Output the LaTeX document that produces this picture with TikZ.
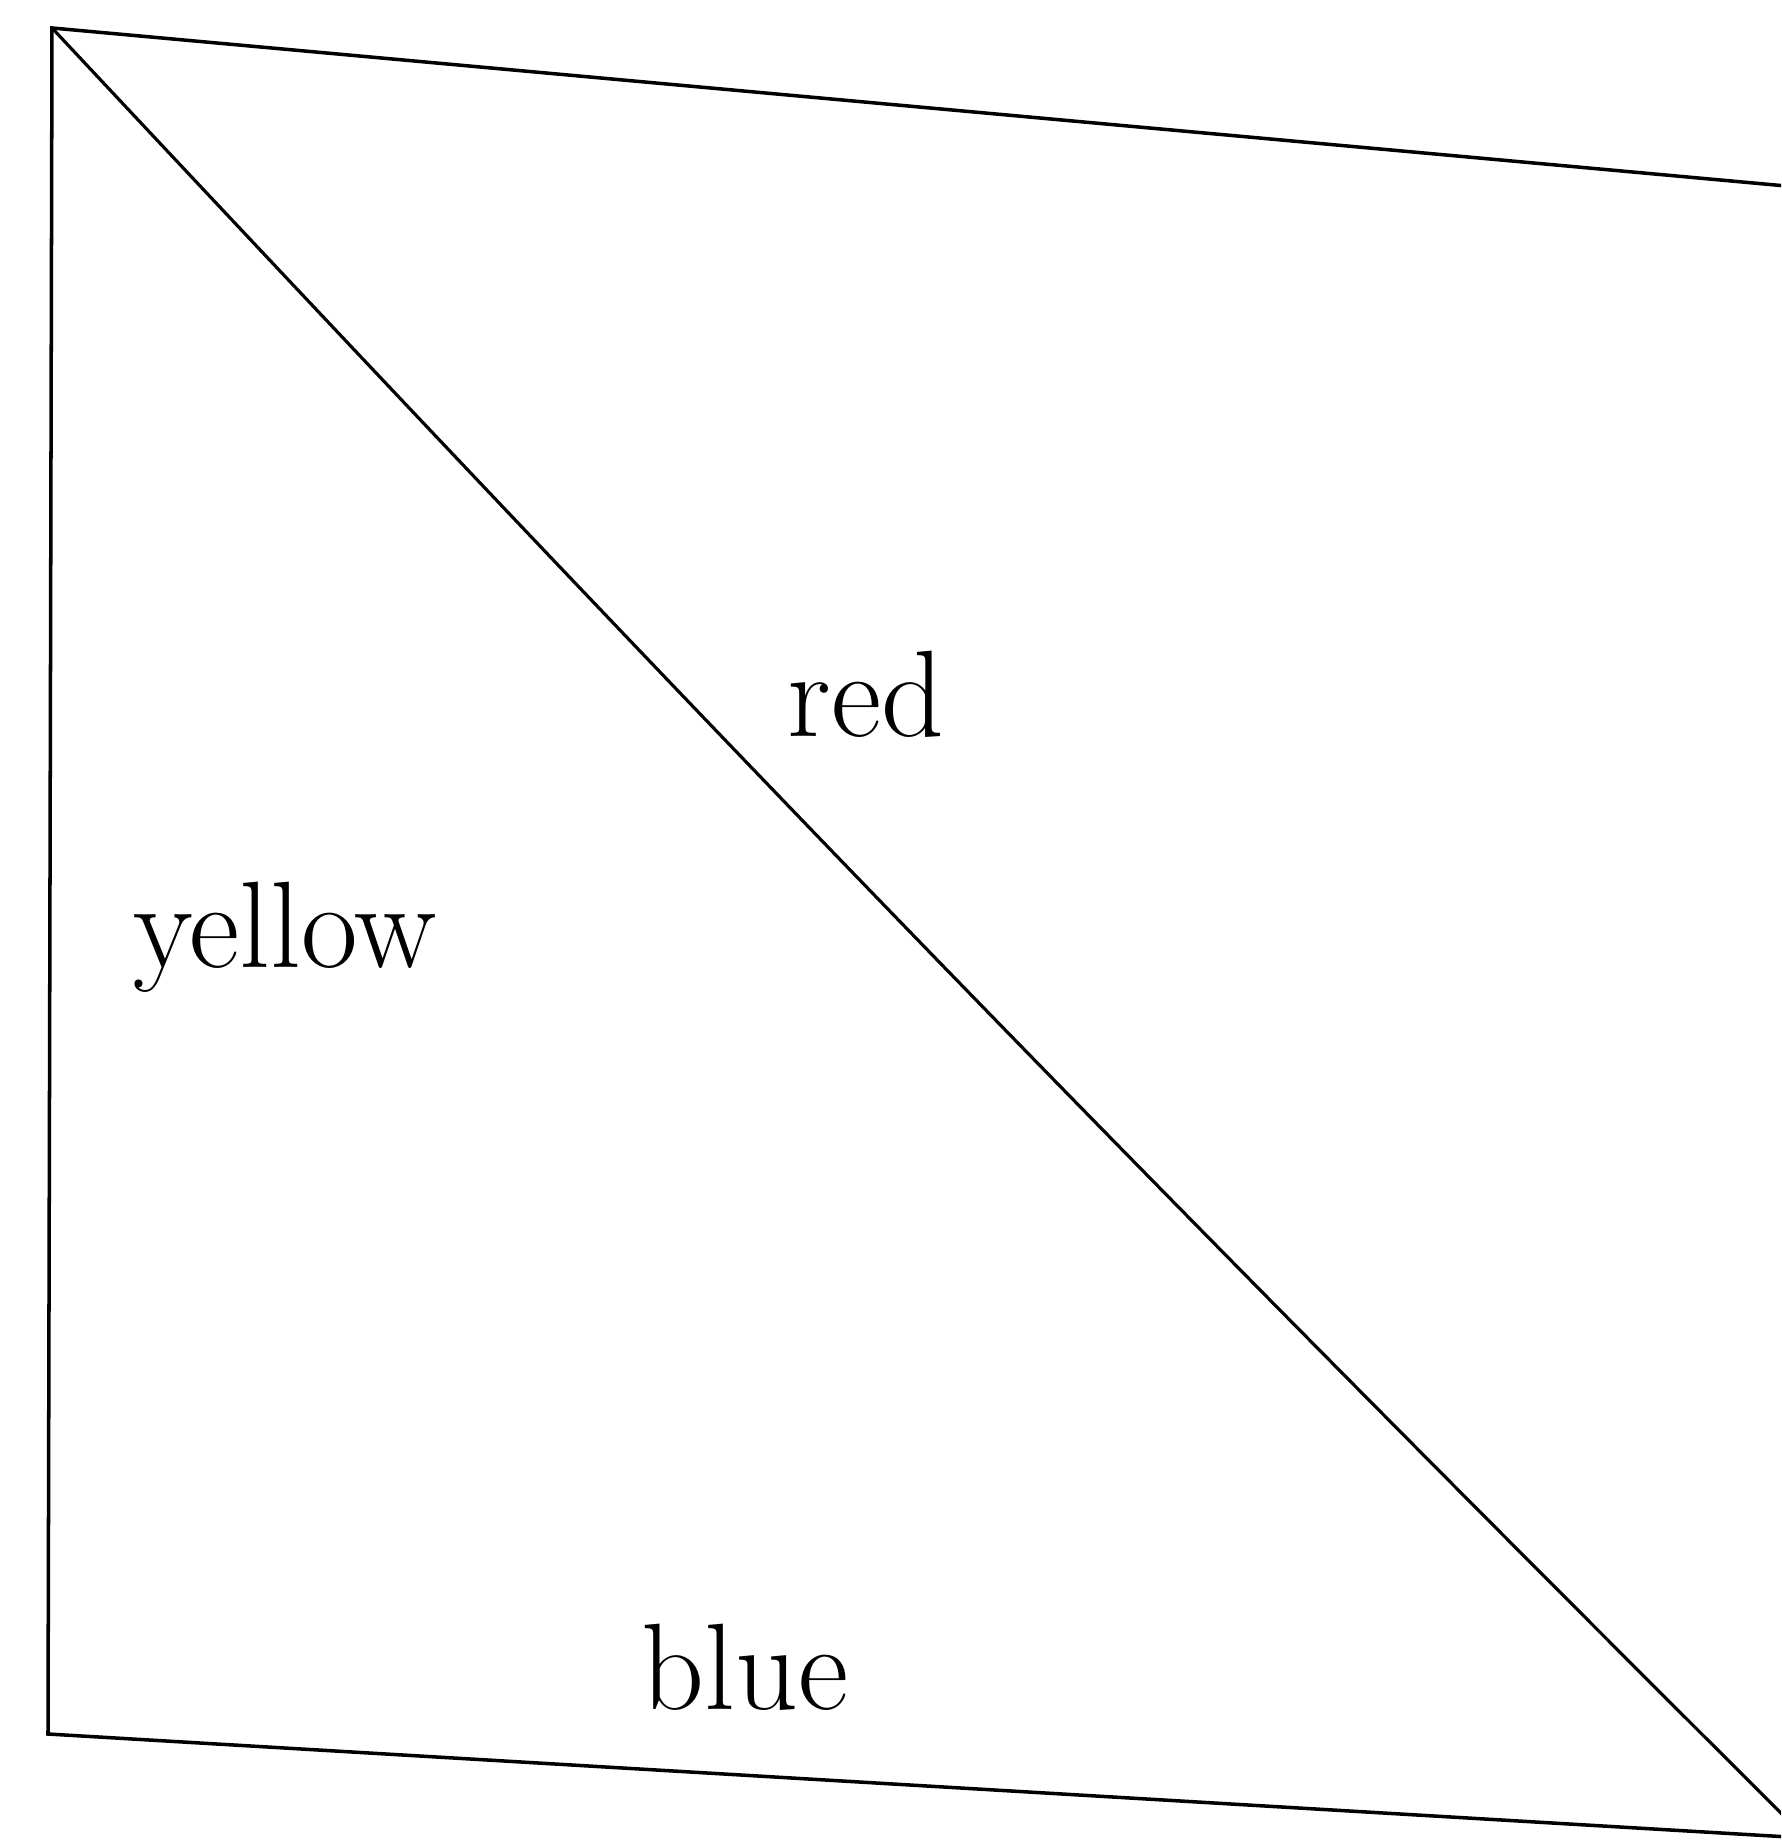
\documentclass[tikz,border=0pt]{standalone}
\usepackage{fontspec}
\usepackage{tikz}
\usetikzlibrary{positioning}

\begin{document}
\begin{tikzpicture}[
  x=0.01cm,y=-0.01cm,
  edge/.style={draw,line width=1pt,line join=miter},
  lbl/.style={inner sep=0pt,font=\fontsize{35}{40}\selectfont\addfontfeatures{LetterSpace=4}}]
  \useasboundingbox (0,0) rectangle (1781,1843);
  \clip (0,0) rectangle (1781,1843);
  \coordinate (tl) at (52,28);
  \coordinate (bl) at (48,1734);
  \coordinate (br) at (1806,1838);
  \coordinate (tr) at (1830,190);
  \draw[edge] (tr) -- (tl) -- (bl) -- (br);
  \draw[edge,line width=0.9pt] (tl) to[bend right=1] (br);
  \node[lbl] (red) at (866,694) {red};
  \node[lbl] (yellow) at (285,937) {yellow};
  \node[lbl] (blue) at (745,1667) {blue};
\end{tikzpicture}
\end{document}
